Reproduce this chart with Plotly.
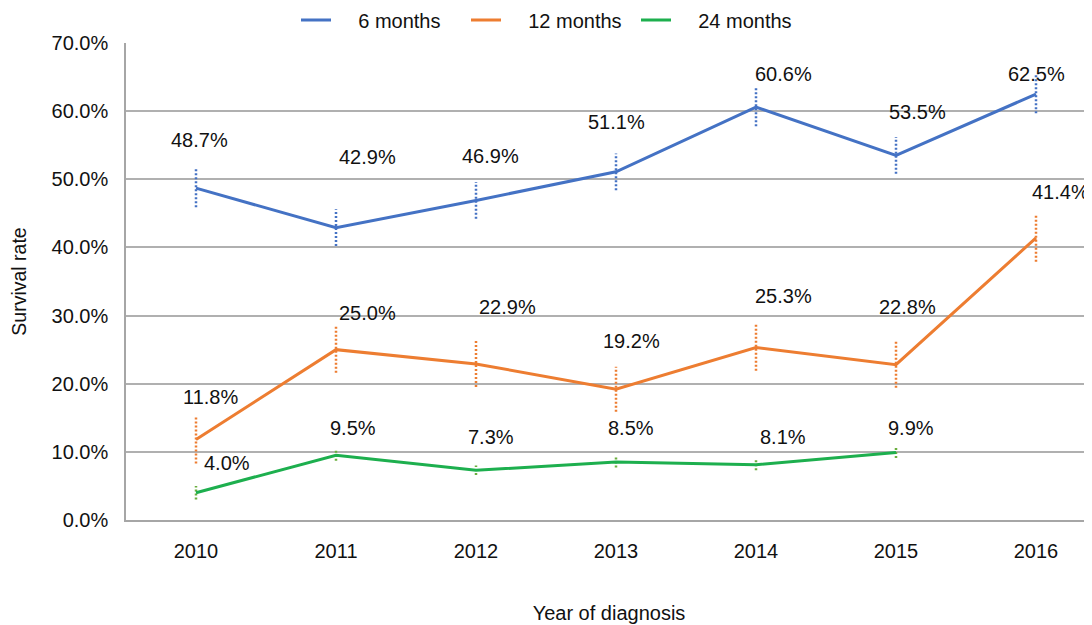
import plotly.graph_objects as go

years = ["2010", "2011", "2012", "2013", "2014", "2015", "2016"]
six_months = [48.7, 42.9, 46.9, 51.1, 60.6, 53.5, 62.5]
twelve_months = [11.8, 25.0, 22.9, 19.2, 25.3, 22.8, 41.4]
twentyfour_months = [4.0, 9.5, 7.3, 8.5, 8.1, 9.9]
six_err = [2.8, 2.7, 2.7, 2.7, 2.8, 2.7, 2.8]
twelve_err = [3.5, 3.4, 3.4, 3.3, 3.4, 3.4, 3.5]
twentyfour_err = [1.0, 0.8, 0.7, 0.8, 0.8, 0.8]

# label offsets in pixels (dx, dy up)
six_off = [(3, 48), (31, 71), (14, 44), (0, 50), (27, 33), (21, 43), (0, 20)]
twelve_off = [(14, 43), (31, 37), (31, 57), (15, 48), (27, 52), (11, 58), (24, 46)]
twentyfour_off = [(31, 30), (17, 27), (15, 33), (15, 34), (27, 28), (15, 25)]

series = [
    ("6 months", six_months, six_err, six_off, "#4472C4", "#4472C4"),
    ("12 months", twelve_months, twelve_err, twelve_off, "#ED7D31", "#ED7D31"),
    ("24 months", twentyfour_months, twentyfour_err, twentyfour_off, "#1DAF4E", "#6AAE3E"),
]

FONT = "Liberation Sans, Arial, sans-serif"
NB = "\u00a0"
fig = go.Figure()
annotations = []
for name, vals, errs, offs, col, ecol in series:
    xs = list(range(len(vals)))
    yv = [v / 100 for v in vals]
    ex, ey = [], []
    for i, (v, e) in enumerate(zip(vals, errs)):
        ex += [i, i, None]
        ey += [(v - e) / 100, (v + e) / 100, None]
    fig.add_trace(go.Scatter(x=ex, y=ey, mode="lines", showlegend=False,
                             line=dict(color=ecol, width=2.5, dash="2px,2px"),
                             hoverinfo="skip"))
    fig.add_trace(go.Scatter(x=xs, y=yv, mode="lines", name=NB * 4 + name,
                             line=dict(color=col, width=3)))
    for i, v in enumerate(vals):
        dx, dy = offs[i]
        annotations.append(dict(x=i, y=v / 100, text=f"{v:.1f}%", showarrow=False,
                                xshift=dx, yshift=dy,
                                font=dict(size=20, color="#111", family=FONT)))

fig.update_layout(
    width=1092, height=625,
    margin=dict(l=118, r=8, t=35, b=113, autoexpand=False),
    plot_bgcolor="white", paper_bgcolor="white",
    font=dict(family=FONT, size=20, color="#111"),
    annotations=annotations,
    legend=dict(orientation="h", x=(295 - 125) / 966, xanchor="left",
                y=1 + 23 / 477, yanchor="middle",
                font=dict(size=20), entrywidth=125, entrywidthmode="pixels",
                itemwidth=30, bgcolor="rgba(0,0,0,0)"),
    xaxis=dict(range=[-0.5, 6.4], tickmode="array", tickvals=list(range(7)),
               ticktext=years, showgrid=False, showline=True, linecolor="#A6A6A6",
               linewidth=1.5, ticks="outside", ticklen=12, tickcolor="rgba(0,0,0,0)",
               zeroline=False, automargin=False,
               title=dict(text="Year of diagnosis", font=dict(size=20), standoff=45),
               tickfont=dict(size=20)),
    yaxis=dict(range=[0, 0.7], dtick=0.1, tickformat=".1%", showgrid=True,
               gridcolor="#B0B0B0", gridwidth=1.5, showline=True, linecolor="#A6A6A6",
               linewidth=1.5, zeroline=False, ticks="outside", ticklen=12,
               tickcolor="rgba(0,0,0,0)", automargin=False,
               title=dict(text="Survival rate", font=dict(size=19.5), standoff=21),
               tickfont=dict(size=20)),
)
fig.write_html("out.html")
